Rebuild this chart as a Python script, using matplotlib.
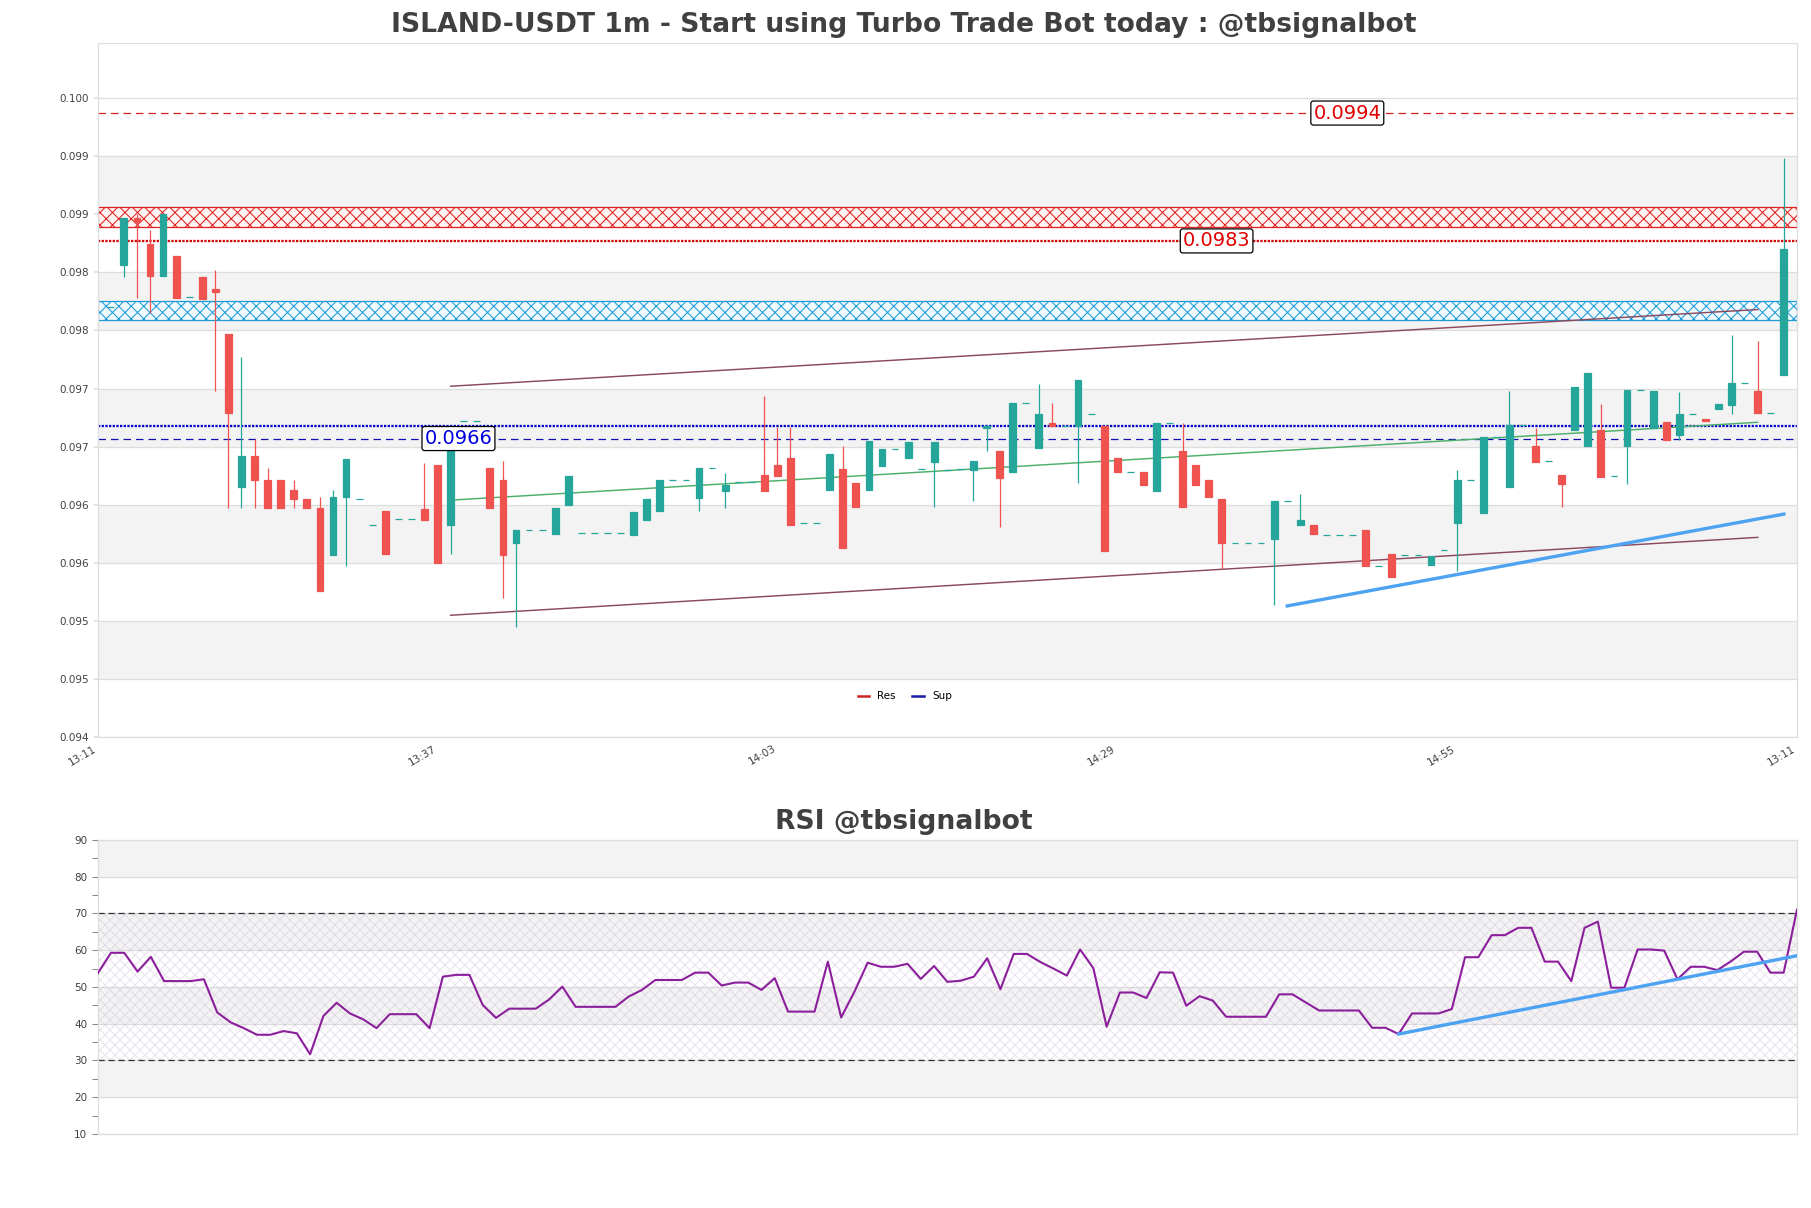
import numpy as np
import matplotlib
matplotlib.use('Agg')
import matplotlib.pyplot as plt
from matplotlib.lines import Line2D

plt.rcParams['font.family'] = 'DejaVu Sans'
plt.rcParams['hatch.linewidth'] = 0.5

# 1m candles, positions 1..129
opens = [
    .09770, .09806, .09847, .09824, .09797, .09814, .09779, .09796, .09786, .09747,
    .09615, .09642, .09621, .09621, .09613, .09605, .09597, .09557, .09607, .09605,
    .09583, .09595, .09588, .09588, .09596, .09634, .09583, .09672, .09672, .09632,
    .09621, .09567, .09578, .09578, .09575, .09600, .09576, .09576, .09576, .09576,
    .09574, .09587, .09595, .09621, .09621, .09606, .09632, .09612, .09620, .09620,
    .09626, .09634, .09640, .09584, .09584, .09613, .09631, .09619, .09613, .09633,
    .09648, .09640, .09631, .09637, .09630, .09631, .09630, .09666, .09646, .09628,
    .09688, .09649, .09670, .09668, .09668, .09678, .09668, .09640, .09628, .09628,
    .09612, .09670, .09646, .09634, .09621, .09605, .09567, .09567, .09567, .09571,
    .09603, .09583, .09583, .09574, .09574, .09574, .09578, .09547, .09558, .09557,
    .09557, .09548, .09561, .09584, .09621, .09593, .09658, .09615, .09669, .09651,
    .09638, .09626, .09664, .09651, .09664, .09625, .09651, .09699, .09666, .09671,
    .09660, .09678, .09674, .09682, .09686, .09705, .09698, .09679, .09712,
]
highs = [
    .09770, .09847, .09850, .09836, .09850, .09814, .09779, .09796, .09802, .09747,
    .09727, .09657, .09632, .09621, .09621, .09605, .09607, .09613, .09639, .09605,
    .09583, .09595, .09588, .09588, .09636, .09634, .09660, .09672, .09672, .09632,
    .09638, .09578, .09578, .09578, .09597, .09625, .09576, .09576, .09576, .09576,
    .09594, .09605, .09621, .09621, .09621, .09632, .09632, .09627, .09620, .09620,
    .09694, .09667, .09667, .09584, .09584, .09644, .09651, .09619, .09655, .09648,
    .09648, .09654, .09631, .09654, .09630, .09631, .09638, .09668, .09646, .09688,
    .09688, .09704, .09688, .09668, .09707, .09678, .09668, .09640, .09628, .09628,
    .09670, .09670, .09670, .09634, .09621, .09605, .09567, .09567, .09567, .09603,
    .09603, .09609, .09583, .09574, .09574, .09574, .09578, .09547, .09558, .09557,
    .09557, .09556, .09561, .09630, .09621, .09658, .09658, .09698, .09669, .09666,
    .09638, .09626, .09701, .09713, .09687, .09625, .09699, .09699, .09698, .09671,
    .09697, .09678, .09674, .09687, .09746, .09705, .09741, .09679, .09898,
]
lows = [
    .09770, .09796, .09778, .09765, .09797, .09778, .09779, .09777, .09698, .09597,
    .09597, .09597, .09597, .09597, .09597, .09597, .09526, .09557, .09547, .09605,
    .09583, .09558, .09588, .09588, .09587, .09550, .09558, .09672, .09672, .09597,
    .09520, .09495, .09578, .09578, .09575, .09600, .09576, .09576, .09576, .09576,
    .09574, .09587, .09595, .09621, .09621, .09595, .09632, .09597, .09620, .09620,
    .09612, .09625, .09583, .09584, .09584, .09613, .09563, .09598, .09613, .09633,
    .09648, .09640, .09631, .09598, .09630, .09631, .09603, .09646, .09581, .09628,
    .09688, .09649, .09668, .09668, .09619, .09678, .09560, .09628, .09628, .09617,
    .09612, .09670, .09598, .09617, .09607, .09545, .09567, .09567, .09567, .09514,
    .09603, .09583, .09575, .09574, .09574, .09574, .09547, .09547, .09538, .09557,
    .09557, .09548, .09561, .09543, .09621, .09593, .09658, .09615, .09669, .09637,
    .09638, .09598, .09664, .09651, .09624, .09625, .09618, .09699, .09666, .09656,
    .09656, .09678, .09672, .09682, .09678, .09705, .09679, .09679, .09712,
]
closes = [
    .09770, .09847, .09843, .09797, .09850, .09778, .09779, .09777, .09783, .09679,
    .09642, .09621, .09597, .09597, .09605, .09597, .09526, .09607, .09639, .09605,
    .09583, .09558, .09588, .09588, .09587, .09550, .09660, .09672, .09672, .09597,
    .09557, .09578, .09578, .09578, .09597, .09625, .09576, .09576, .09576, .09576,
    .09594, .09605, .09621, .09621, .09621, .09632, .09632, .09617, .09620, .09620,
    .09612, .09625, .09583, .09584, .09584, .09644, .09563, .09598, .09655, .09648,
    .09648, .09654, .09631, .09654, .09630, .09631, .09638, .09668, .09623, .09688,
    .09688, .09678, .09668, .09668, .09707, .09678, .09560, .09628, .09628, .09617,
    .09670, .09670, .09598, .09617, .09607, .09567, .09567, .09567, .09567, .09603,
    .09603, .09587, .09575, .09574, .09574, .09574, .09547, .09547, .09538, .09557,
    .09557, .09556, .09561, .09621, .09621, .09658, .09658, .09669, .09669, .09637,
    .09638, .09618, .09701, .09713, .09624, .09625, .09699, .09699, .09698, .09656,
    .09678, .09678, .09672, .09687, .09705, .09705, .09679, .09679, .09820,
]

rsi = [
    53.7, 59.3, 59.3, 54.2, 58.2, 51.6, 51.6, 51.6, 52.1, 43.1,
    40.4, 38.8, 37.0, 37.0, 38.0, 37.4, 31.7, 42.1, 45.7, 42.8,
    41.2, 38.8, 42.6, 42.6, 42.6, 38.8, 52.8, 53.3, 53.3, 45.1,
    41.6, 44.1, 44.1, 44.1, 46.6, 50.1, 44.6, 44.6, 44.6, 44.6,
    47.4, 49.2, 51.9, 51.9, 51.9, 53.9, 53.9, 50.4, 51.2, 51.2,
    49.2, 52.4, 43.3, 43.3, 43.3, 56.9, 41.7, 48.7, 56.6, 55.5,
    55.5, 56.3, 52.2, 55.7, 51.4, 51.7, 52.8, 57.8, 49.4, 59.0,
    59.0, 56.8, 55.0, 53.1, 60.2, 55.1, 39.2, 48.5, 48.5, 47.0,
    54.0, 53.9, 44.9, 47.5, 46.3, 41.9, 41.9, 41.9, 41.9, 48.0,
    48.0, 45.8, 43.6, 43.6, 43.6, 43.6, 38.9, 38.9, 37.2, 42.8,
    42.8, 42.8, 44.0, 58.1, 58.1, 64.1, 64.1, 66.1, 66.1, 56.9,
    56.9, 51.6, 66.1, 67.8, 49.8, 49.8, 60.2, 60.2, 59.9, 52.1,
    55.5, 55.5, 54.6, 56.9, 59.6, 59.6, 53.9, 53.9, 71.0,
]

# levels
res_level = 0.09937
res_zone = (0.09839, 0.09856)
res_near = 0.09827
sup_zone = (0.09759, 0.09775)
sup_near = 0.09668
sup_level = 0.09657

# trend lines (x0, x1), (y0, y1)
chan_x = [27, 127]
chan_top = [0.09702, 0.09768]
chan_bot = [0.09505, 0.09572]
chan_mid = [0.09604, 0.09671]
up_x = [91, 129]
up_y = [0.09513, 0.09592]
rsi_tr_x = [98, 128]
rsi_tr_y = [37.2, 58.5]

price_ticks = [0.0940, 0.0945, 0.0950, 0.0955, 0.0960, 0.0965,
               0.0970, 0.0975, 0.0980, 0.0985, 0.0990, 0.0995]
price_labels = ['0.094', '0.095', '0.095', '0.096', '0.096', '0.097',
                '0.097', '0.098', '0.098', '0.099', '0.099', '0.100']
time_ticks = [0, 26, 52, 78, 104, 130]
time_labels = ['13:11', '13:37', '14:03', '14:29', '14:55', '13:11']
rsi_ticks = [10, 20, 30, 40, 50, 60, 70, 80, 90]

GREEN = '#26a69a'
RED = '#ef5350'
GRID = '#dddddd'
BAND = '#f3f3f3'
TXT = '#404040'

fig = plt.figure(figsize=(1811 / 150, 1208 / 150), dpi=150)
ax = fig.add_axes([0.05395, 0.38965, 0.93830, 0.57450])
ax2 = fig.add_axes([0.05395, 0.06126, 0.93830, 0.24340])

# ---- price panel
ax.set_xlim(0, 130)
ax.set_ylim(0.094, 0.09997)
for j in range(1, len(price_ticks) - 1, 2):
    ax.axhspan(price_ticks[j], price_ticks[j + 1], color=BAND, lw=0, zorder=0)
for t in price_ticks:
    ax.axhline(t, color=GRID, lw=0.6, zorder=0.5)

ax.axhspan(*res_zone, facecolor='#fff6f4', edgecolor='#e02020', hatch='xxxx', lw=0.6, zorder=1)
ax.axhspan(*sup_zone, facecolor='#f0faff', edgecolor='#1e9bd7', hatch='xxxx', lw=0.6, zorder=1)
ax.axhline(res_level, color='#d42020', ls=(0, (6, 4)), lw=0.6, zorder=2)
ax.axhline(res_near, color='#d00000', ls=(0, (1, 0.6)), lw=1.1, zorder=2)
ax.axhline(sup_near, color='#0000c8', ls=(0, (1, 0.6)), lw=1.1, zorder=2)
ax.axhline(sup_level, color='#1010b0', ls=(0, (6, 4)), lw=0.6, zorder=2)

ax.plot(chan_x, chan_top, color='#8a4a5e', lw=0.7, zorder=2)
ax.plot(chan_x, chan_bot, color='#8a4a5e', lw=0.7, zorder=2)
ax.plot(chan_x, chan_mid, color='#4caf6a', lw=0.7, zorder=2)
ax.plot(up_x, up_y, color='#4da3f2', lw=1.6, zorder=2)

x = np.arange(1, len(opens) + 1)
o, h, l, c = (np.array(v) for v in (opens, highs, lows, closes))
col = np.where(c >= o, GREEN, RED)
ax.vlines(x, l, h, colors=col, lw=0.6, zorder=3)
ax.bar(x, c - o, bottom=o, width=0.52, color=col, edgecolor=col, lw=0.6, zorder=4)

box = dict(boxstyle='round,pad=0.13', fc='white', ec='black', lw=0.6)
ax.text(95.6, res_level, '0.0994', color='#e00000', fontsize=9.3,
        ha='center', va='center', bbox=box, zorder=6)
ax.text(85.6, res_near, '0.0983', color='#e00000', fontsize=9.3,
        ha='center', va='center', bbox=box, zorder=6)
ax.text(27.6, sup_level, '0.0966', color='#0000dd', fontsize=9.3,
        ha='center', va='center', bbox=box, zorder=6)

handles = [Line2D([], [], color='#cc2222', lw=1.2),
           Line2D([], [], color='#1a1aaa', lw=1.2)]
ax.legend(handles, ['Res', 'Sup'], ncol=2, frameon=False, fontsize=5,
          loc='center', bbox_to_anchor=(0.475, 0.059), handlelength=1.1,
          columnspacing=1.6, handletextpad=0.8)

ax.set_yticks(price_ticks, price_labels)
ax.set_xticks(time_ticks, time_labels)
ax.tick_params(axis='y', labelsize=5, labelcolor=TXT, length=2, color=GRID, pad=2)
ax.tick_params(axis='x', labelsize=5, labelcolor=TXT, length=0, pad=3,
               rotation=30)
for lab in ax.get_xticklabels():
    lab.set_ha('right')
for s in ax.spines.values():
    s.set_color(GRID)
    s.set_linewidth(0.6)

# ---- RSI panel
ax2.set_xlim(0, len(rsi) - 1)
ax2.set_ylim(10, 90)
for j in range(1, len(rsi_ticks) - 1, 2):
    ax2.axhspan(rsi_ticks[j], rsi_ticks[j + 1], color=BAND, lw=0, zorder=0)
for t in rsi_ticks:
    ax2.axhline(t, color=GRID, lw=0.6, zorder=0.5)
ax2.axhspan(30, 70, facecolor='none', edgecolor='#b9a6c9', hatch='xxxxx', lw=0,
            alpha=0.3, zorder=1)
ax2.axhline(30, color='#333333', ls=(0, (5, 3)), lw=0.6, zorder=2)
ax2.axhline(70, color='#333333', ls=(0, (5, 3)), lw=0.6, zorder=2)
ax2.plot(np.arange(len(rsi)), rsi, color='#8b1f9b', lw=1.0, zorder=3)
ax2.plot(rsi_tr_x, rsi_tr_y, color='#4da3f2', lw=1.6, zorder=4)

ax2.set_yticks(rsi_ticks)
ax2.set_yticks(np.arange(15, 90, 10), minor=True)
ax2.set_xticks([])
ax2.tick_params(axis='y', which='both', labelsize=5, labelcolor=TXT,
                color='#888888', length=3, width=0.5, pad=2)
for s in ax2.spines.values():
    s.set_color(GRID)
    s.set_linewidth(0.6)

fig.text(0.4993, 0.979, 'ISLAND-USDT 1m - Start using Turbo Trade Bot today : @tbsignalbot',
         ha='center', va='center', fontsize=12.8, fontweight='bold', color=TXT)
fig.text(0.4993, 0.3193, 'RSI @tbsignalbot', ha='center', va='center',
         fontsize=12.8, fontweight='bold', color=TXT)

fig.savefig('out.png', dpi=150, facecolor='white')
